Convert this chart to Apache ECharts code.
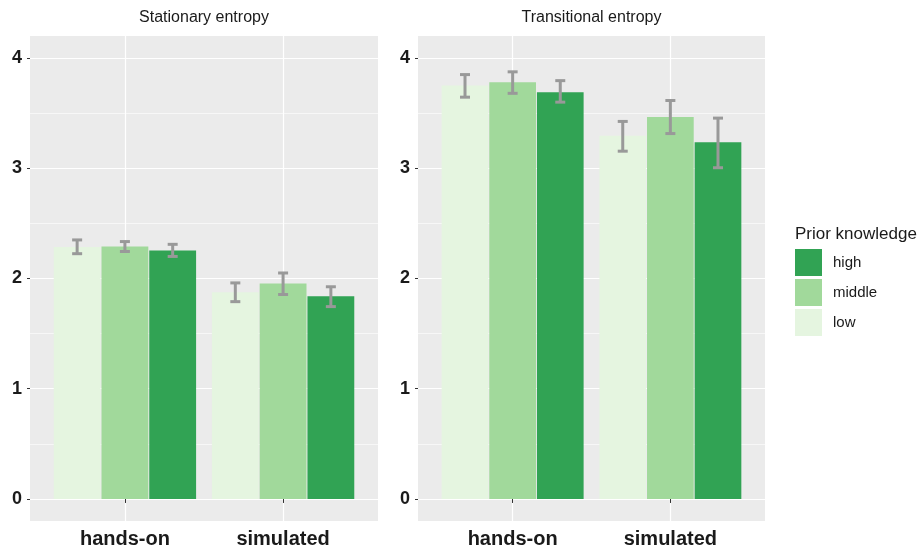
<!DOCTYPE html>
<html><head><meta charset="utf-8">
<script src="https://cdn.jsdelivr.net/npm/echarts@6/dist/echarts.min.js"></script>
<style>html,body{margin:0;padding:0;background:#fff}#c{width:923px;height:550px}</style>
</head><body><div id="c"></div>
<script>
// ---- data ----
const categories = ['hands-on', 'simulated'];
const categoryPos = [1, 2];
const panels = ['Stationary entropy', 'Transitional entropy'];
const levels = ['low', 'middle', 'high'];
const legendOrder = ['high', 'middle', 'low'];
const colors = ['#E5F5E0', '#A1D99B', '#31A354'];
const yTicks = [0, 1, 2, 3, 4];
const yMinor = [0.5, 1.5, 2.5, 3.5];

// Stationary entropy: values per category [hands-on, simulated]
const statLow = [2.285, 1.875];
const statMiddle = [2.29, 1.955];
const statHigh = [2.255, 1.84];
const statLowErr = [[2.225, 2.35], [1.79, 1.96]];
const statMiddleErr = [[2.245, 2.335], [1.855, 2.05]];
const statHighErr = [[2.2, 2.31], [1.745, 1.925]];

// Transitional entropy
const transLow = [3.75, 3.295];
const transMiddle = [3.78, 3.465];
const transHigh = [3.69, 3.235];
const transLowErr = [[3.645, 3.85], [3.155, 3.425]];
const transMiddleErr = [[3.68, 3.875], [3.315, 3.615]];
const transHighErr = [[3.6, 3.795], [3.005, 3.455]];

const panelValues = [[statLow, statMiddle, statHigh], [transLow, transMiddle, transHigh]];
const panelErrs = [[statLowErr, statMiddleErr, statHighErr], [transLowErr, transMiddleErr, transHighErr]];

// ---- chart ----
const chart = echarts.init(document.getElementById('c'), null, {renderer: 'canvas'});
const gridBoxes = [{left: 30, top: 36, width: 348, height: 485}, {left: 418, top: 36, width: 347, height: 485}];
const txt = '#1a1a1a';

const grids = [], xAxes = [], yAxes = [], series = [], titles = [];
const catGap = 0.1, barGapFrac = 0.02;

function renderErr(params, api) {
  const x = api.value(0), k = api.value(1), lo = api.value(2), hi = api.value(3);
  const b = api.coord([x, lo]);
  const t = api.coord([x, hi]);
  const band = api.size([1, 0])[0];
  const bw = band * (1 - catGap) / (3 + 2 * barGapFrac);
  const step = bw * (1 + barGapFrac);
  const cx = b[0] + (k - 1) * step;
  const hw = 5;
  const style = {stroke: '#999999', lineWidth: 3};
  return {type: 'group', children: [
    {type: 'line', shape: {x1: cx, y1: t[1], x2: cx, y2: b[1]}, style: style},
    {type: 'line', shape: {x1: cx - hw, y1: t[1], x2: cx + hw, y2: t[1]}, style: style},
    {type: 'line', shape: {x1: cx - hw, y1: b[1], x2: cx + hw, y2: b[1]}, style: style}
  ]};
}

panels.forEach((name, p) => {
  const g = gridBoxes[p];
  grids.push(Object.assign({show: true, backgroundColor: '#EBEBEB', borderWidth: 0, containLabel: false}, g));
  titles.push({text: name, left: g.left + g.width / 2, top: 10, textAlign: 'center', padding: 0,
    textStyle: {fontFamily: 'Liberation Sans, Arial', fontSize: 16, fontWeight: 'normal', color: txt}});
  xAxes.push({type: 'value', gridIndex: p, min: 0.4, max: 2.6,
    axisLine: {show: false},
    axisTick: {show: true, customValues: categoryPos, length: 4, lineStyle: {color: '#333', width: 1}},
    axisLabel: {customValues: categoryPos, margin: 8, fontFamily: 'Liberation Sans, Arial', fontSize: 20, fontWeight: 'bold', color: txt,
      formatter: v => categories[categoryPos.indexOf(Math.round(v))]},
    splitLine: {show: true, lineStyle: {color: '#ffffff', width: 1.2}}
  });
  yAxes.push({type: 'value', gridIndex: p, min: -0.2, max: 4.2,
    axisLine: {show: false},
    axisTick: {show: true, customValues: yTicks, length: 3, lineStyle: {color: '#333', width: 1}},
    axisLabel: {customValues: yTicks, margin: 8, fontFamily: 'Liberation Sans, Arial', fontSize: 18, fontWeight: 'bold', color: txt},
    splitLine: {show: true, lineStyle: {color: '#ffffff', width: 1.2}}
  });
  yAxes.push({type: 'value', gridIndex: p, min: -0.2, max: 4.2,
    axisLine: {show: false},
    axisTick: {show: false, customValues: yMinor},
    axisLabel: {show: false, customValues: yMinor},
    splitLine: {show: true, lineStyle: {color: '#ffffff', width: 0.6}}
  });
  levels.forEach((lv, k) => {
    series.push({type: 'bar', name: lv, xAxisIndex: p, yAxisIndex: p * 2,
      barCategoryGap: (catGap * 100) + '%', barGap: (barGapFrac * 100) + '%',
      itemStyle: {color: colors[k]},
      data: panelValues[p][k].map((v, i) => [categoryPos[i], v]), z: 2});
  });
  const errData = [];
  categoryPos.forEach((x, i) => {
    levels.forEach((lv, k) => {
      const e = panelErrs[p][k][i];
      errData.push([x, k, e[0], e[1]]);
    });
  });
  series.push({type: 'custom', xAxisIndex: p, yAxisIndex: p * 2, renderItem: renderErr,
    encode: {x: 0, y: [2, 3]}, data: errData, z: 5, silent: true});
});

titles.push({text: 'Prior knowledge', left: 795, top: 226, padding: 0,
  textStyle: {fontFamily: 'Liberation Sans, Arial', fontSize: 17, fontWeight: 'normal', color: txt}});

chart.setOption({
  animation: false,
  backgroundColor: '#ffffff',
  title: titles,
  grid: grids,
  xAxis: xAxes,
  yAxis: yAxes,
  legend: {data: legendOrder, orient: 'vertical', left: 795, top: 249, padding: 0,
    itemWidth: 27, itemHeight: 27, itemGap: 3, icon: 'rect', selectedMode: false,
    textStyle: {fontFamily: 'Liberation Sans, Arial', fontSize: 15, color: txt, padding: [0, 0, 0, 6]}},
  series: series
});
</script></body></html>
